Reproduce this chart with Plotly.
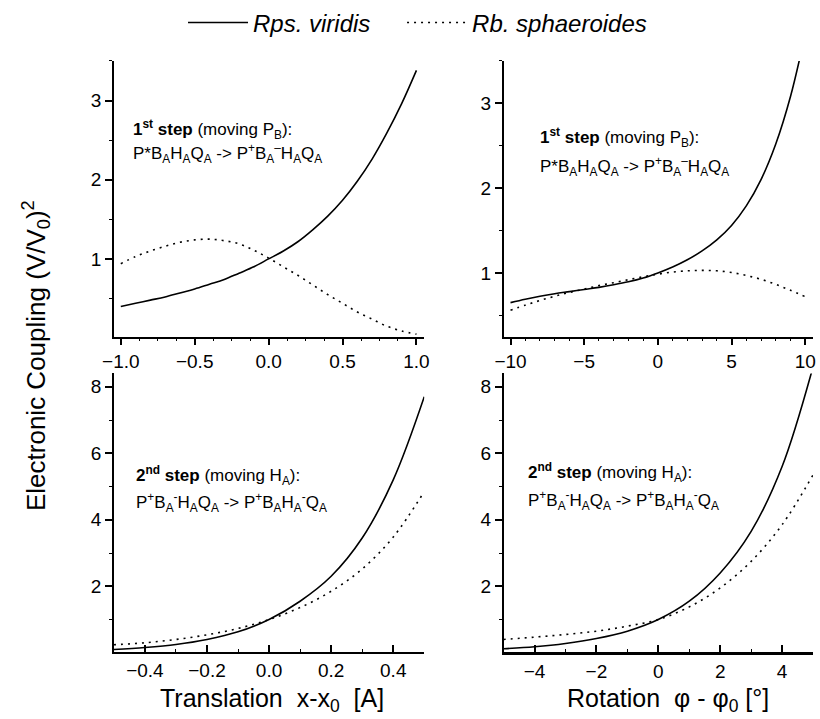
import plotly.graph_objects as go

# ---------------- data ----------------
# Top-left: translation, 1st step
trans1_x = [-1.0, -0.9, -0.8, -0.7, -0.6, -0.5, -0.4, -0.3, -0.2, -0.1, 0.0,
            0.1, 0.2, 0.3, 0.4, 0.5, 0.6, 0.7, 0.8, 0.9, 1.0]
trans1_viridis = [0.40, 0.44, 0.48, 0.52, 0.57, 0.62, 0.68, 0.74, 0.82, 0.90, 1.00,
                  1.10, 1.22, 1.37, 1.54, 1.74, 1.98, 2.26, 2.59, 2.96, 3.38]
trans1_sphaer = [0.94, 1.03, 1.10, 1.16, 1.21, 1.24, 1.25, 1.23, 1.19, 1.11, 1.01,
                 0.90, 0.79, 0.67, 0.55, 0.44, 0.33, 0.24, 0.15, 0.09, 0.05]

# Top-right: rotation, 1st step
rot1_x = [-10, -9, -8, -7, -6, -5, -4, -3, -2, -1, 0, 1, 2, 3, 4, 5, 6, 7, 8, 9, 10]
rot1_viridis = [0.65, 0.69, 0.725, 0.755, 0.78, 0.805, 0.83, 0.86, 0.895, 0.94, 1.00,
                1.07, 1.155, 1.26, 1.39, 1.56, 1.79, 2.10, 2.52, 3.08, 3.82]
rot1_sphaer = [0.56, 0.62, 0.675, 0.725, 0.77, 0.81, 0.85, 0.885, 0.92, 0.955, 0.985,
               1.01, 1.025, 1.03, 1.025, 1.005, 0.97, 0.925, 0.865, 0.795, 0.72]

# Bottom-left: translation, 2nd step
trans2_x = [-0.5, -0.4, -0.3, -0.2, -0.1, 0.0, 0.1, 0.2, 0.3, 0.4, 0.5]
trans2_viridis = [0.10, 0.16, 0.25, 0.40, 0.63, 1.00, 1.55, 2.30, 3.45, 5.20, 7.70]
trans2_sphaer = [0.24, 0.30, 0.40, 0.54, 0.73, 1.00, 1.36, 1.85, 2.52, 3.48, 4.85]

# Bottom-right: rotation, 2nd step
rot2_x = [-5, -4, -3, -2, -1, 0, 1, 2, 3, 4, 5]
rot2_viridis = [0.12, 0.18, 0.28, 0.43, 0.65, 1.00, 1.55, 2.40, 3.65, 5.60, 8.60]
rot2_sphaer = [0.40, 0.47, 0.55, 0.65, 0.80, 1.00, 1.38, 1.95, 2.75, 3.85, 5.35]

series_names = ["<i>Rps. viridis</i>\u00a0\u00a0\u00a0\u00a0", "<i>Rb. sphaeroides</i>"]

# ---------------- figure ----------------
W, H = 820, 719
FONT = "Liberation Sans, Arial, sans-serif"
solid = dict(color="black", width=1.6)
dotted = dict(color="black", width=1.6, dash="2px,5px")

fig = go.Figure()
panels = [
    ("x", "y", trans1_x, trans1_viridis, trans1_sphaer),
    ("x2", "y2", rot1_x, rot1_viridis, rot1_sphaer),
    ("x3", "y3", trans2_x, trans2_viridis, trans2_sphaer),
    ("x4", "y4", rot2_x, rot2_viridis, rot2_sphaer),
]
for i, (xa, ya, xs, v, s) in enumerate(panels):
    fig.add_trace(go.Scatter(x=xs, y=v, mode="lines", line=dict(shape="spline", **solid),
                             name=series_names[0], showlegend=(i == 0),
                             xaxis=xa, yaxis=ya, cliponaxis=True))
    fig.add_trace(go.Scatter(x=xs, y=s, mode="lines", line=dict(shape="spline", **dotted),
                             name=series_names[1], showlegend=(i == 0),
                             xaxis=xa, yaxis=ya, cliponaxis=True))

left_dom = [104 / W, 421 / W]
right_dom = [502 / W, 818 / W]
top_dom = [1 - 336 / H, 1 - 60 / H]
bot_dom = [1 - 652 / H, 1 - 373 / H]

tickfont = dict(family=FONT, size=19, color="black")


def xax(dom, rng, dtick, mdtick, anchor, fmt, ticks, lw=1.5):
    return dict(domain=dom, range=rng, anchor=anchor, showgrid=False, zeroline=False,
                showline=True, linecolor="black", linewidth=lw,
                ticks=ticks, ticklen=7, tickwidth=1.5, tickcolor="black",
                tick0=0, dtick=dtick, tickformat=fmt, tickfont=tickfont,
                minor=dict(ticks=ticks, ticklen=3, tickwidth=1.2, tickcolor="black",
                           dtick=mdtick, tick0=0, showgrid=False))


def yax(dom, rng, dtick, mdtick, anchor):
    return dict(domain=dom, range=rng, anchor=anchor, showgrid=False, zeroline=False,
                showline=True, linecolor="black", linewidth=1.5,
                ticks="outside", ticklen=7, tickwidth=1.5, tickcolor="black",
                tick0=0, dtick=dtick, tickfont=tickfont,
                minor=dict(ticks="outside", ticklen=3, tickwidth=1.2, tickcolor="black",
                           dtick=mdtick, tick0=0, showgrid=False))


fig.update_layout(
    width=W, height=H, margin=dict(l=0, r=0, t=0, b=0),
    paper_bgcolor="white", plot_bgcolor="white",
    font=dict(family=FONT, color="black"),
    xaxis=xax(left_dom, [-1.047, 1.053], 0.5, 0.125, "y", ".1f", "outside"),
    yaxis=yax(top_dom, [0.02, 3.5], 1, 0.5, "x"),
    xaxis2=xax(right_dom, [-10.47, 10.53], 5, 1, "y2", "d", "outside"),
    yaxis2=yax(top_dom, [0.25, 3.5], 1, 0.5, "x2"),
    xaxis3=xax(left_dom, [-0.5, 0.5], 0.2, 0.1, "y3", ".1f", "inside"),
    yaxis3=yax(bot_dom, [0.02, 8.4], 2, 1, "x3"),
    xaxis4=xax(right_dom, [-5, 5], 2, 1, "y4", "d", "inside", lw=2.5),
    yaxis4=yax(bot_dom, [0.02, 8.4], 2, 1, "x4"),
    legend=dict(orientation="h", x=0.505, xanchor="center", y=1 - 22 / H, yanchor="middle",
                font=dict(family=FONT, size=24, color="black"), bgcolor="rgba(0,0,0,0)",
                itemwidth=60),
    showlegend=True,
)

ann_font = dict(family=FONT, size=17, color="black")
step1_l1 = "<b>1<sup>st</sup> step</b> (moving P<sub>B</sub>):"
step1_l2 = "P*B<sub>A</sub>H<sub>A</sub>Q<sub>A</sub> -> P<sup>+</sup>B<sub>A</sub><sup>\u2013</sup>H<sub>A</sub>Q<sub>A</sub>"
step2_l1 = "<b>2<sup>nd</sup> step</b> (moving H<sub>A</sub>):"
step2_l2 = "P<sup>+</sup>B<sub>A</sub><sup>-</sup>H<sub>A</sub>Q<sub>A</sub> -> P<sup>+</sup>B<sub>A</sub>H<sub>A</sub><sup>-</sup>Q<sub>A</sub>"

labels = [
    (122, 129, step1_l1), (122, 153, step1_l2),
    (537, 137, step1_l1), (537, 166, step1_l2),
    (125, 475, step2_l1), (125, 502, step2_l2),
    (525, 472, step2_l1), (525, 500, step2_l2),
]
for px, py, txt in labels:
    fig.add_annotation(x=px / W, y=1 - py / H, xref="paper", yref="paper", text=txt,
                       showarrow=False, xanchor="left", yanchor="middle", font=ann_font)

title_font = dict(family=FONT, size=25, color="black")
fig.add_annotation(x=265 / W, y=1 - 700 / H, xref="paper", yref="paper",
                   text="Translation  x-x<sub>0</sub>  [A]", showarrow=False,
                   xanchor="center", yanchor="middle", font=title_font)
fig.add_annotation(x=670 / W, y=1 - 700 / H, xref="paper", yref="paper",
                   text="Rotation  \u03c6 - \u03c6<sub>0</sub> [\u00b0]", showarrow=False,
                   xanchor="center", yanchor="middle", font=title_font)
fig.add_annotation(x=24 / W, y=1 - 355 / H, xref="paper", yref="paper",
                   text="Electronic Coupling (V/V<sub>0</sub>)<sup>2</sup>", showarrow=False,
                   textangle=-90, xanchor="center", yanchor="middle",
                   font=dict(family=FONT, size=26, color="black"))

fig.write_html("out.html")
